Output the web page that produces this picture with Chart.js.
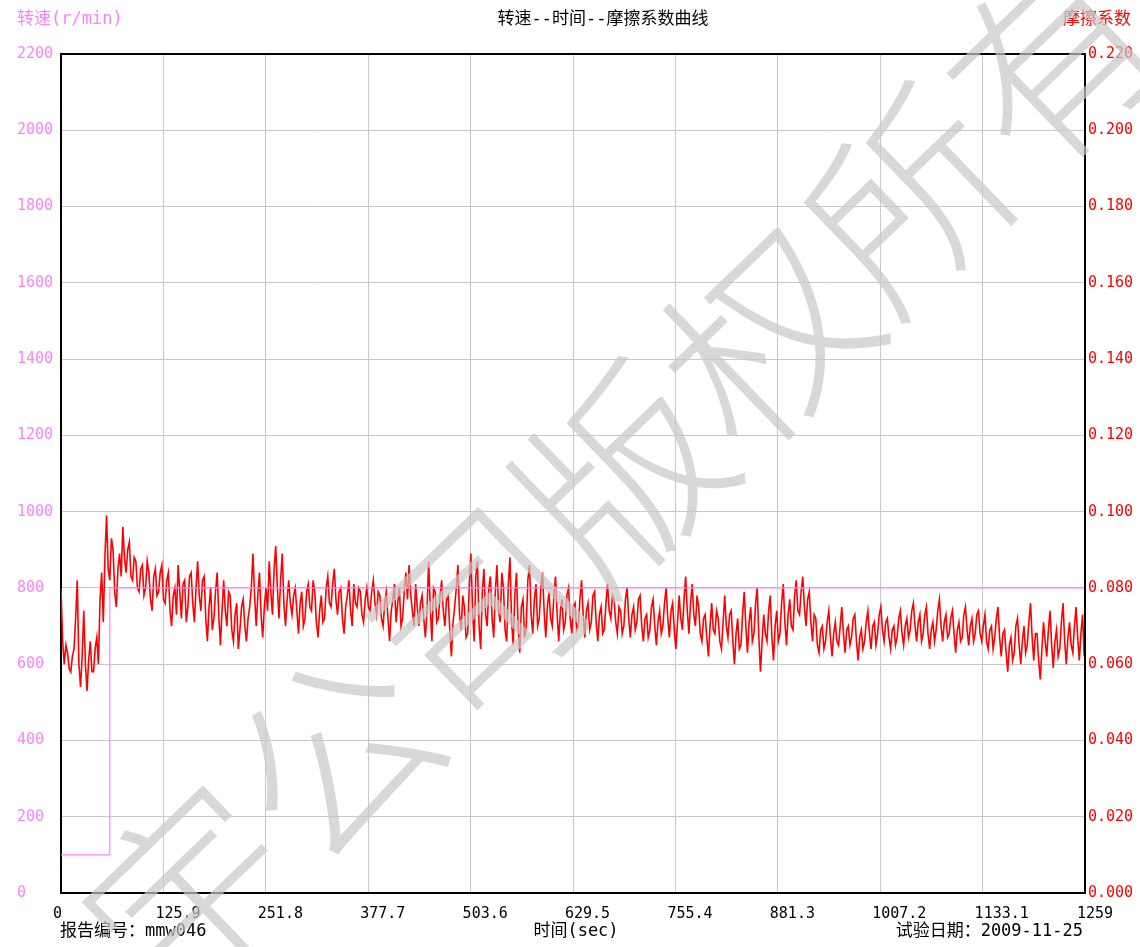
<!DOCTYPE html>
<html>
<head>
<meta charset="utf-8">
<title>转速--时间--摩擦系数曲线</title>
<script src="https://cdn.jsdelivr.net/npm/chart.js@4/dist/chart.umd.min.js"></script>
<style>
  html, body { margin: 0; padding: 0; background: #fff; }
  canvas { display: block; }
</style>
</head>
<body>
<canvas id="chart" width="1140" height="947"></canvas>
<script>
// time axis (sec)
const X_MAX = 1259;
const xTickValues = [0, 125.9, 251.8, 377.7, 503.6, 629.5, 755.4, 881.3, 1007.2, 1133.1, 1259];
const xTickLabels = ["0", "125.9", "251.8", "377.7", "503.6", "629.5", "755.4", "881.3", "1007.2", "1133.1", "1259"];

// left axis: speed r/min
const speedTickValues = [0, 200, 400, 600, 800, 1000, 1200, 1400, 1600, 1800, 2000, 2200];
const speedTimes = [0, 60, 1259];
const speedRpm = [100, 800, 800];

// right axis: friction coefficient
const frictionTickValues = [0, 0.02, 0.04, 0.06, 0.08, 0.1, 0.12, 0.14, 0.16, 0.18, 0.2, 0.22];
const SAMPLE_STEP = 2; // seconds between friction samples
const friction = [
  0.080, 0.066, 0.060, 0.065, 0.063, 0.059, 0.058, 0.062, 0.064, 0.072, 0.082, 0.060, 0.054, 0.062, 0.074, 0.060, 0.053, 0.061, 0.066, 0.058,
  0.058, 0.064, 0.067, 0.060, 0.077, 0.084, 0.071, 0.088, 0.099, 0.085, 0.082, 0.093, 0.090, 0.079, 0.075, 0.085, 0.089, 0.083, 0.096, 0.088,
  0.084, 0.090, 0.092, 0.083, 0.082, 0.088, 0.087, 0.080, 0.079, 0.085, 0.086, 0.078, 0.080, 0.087, 0.084, 0.077, 0.074, 0.083, 0.085, 0.078,
  0.079, 0.084, 0.086, 0.077, 0.076, 0.082, 0.084, 0.074, 0.070, 0.078, 0.080, 0.073, 0.086, 0.079, 0.072, 0.081, 0.082, 0.071, 0.075, 0.083,
  0.084, 0.076, 0.071, 0.080, 0.087, 0.078, 0.074, 0.082, 0.083, 0.072, 0.066, 0.075, 0.080, 0.069, 0.072, 0.079, 0.084, 0.073, 0.065, 0.074,
  0.082, 0.074, 0.070, 0.079, 0.078, 0.069, 0.066, 0.073, 0.076, 0.064, 0.069, 0.075, 0.077, 0.070, 0.066, 0.072, 0.075, 0.080, 0.089, 0.078,
  0.070, 0.078, 0.084, 0.073, 0.067, 0.075, 0.080, 0.074, 0.087, 0.079, 0.073, 0.085, 0.091, 0.080, 0.072, 0.082, 0.089, 0.076, 0.070, 0.077,
  0.082, 0.076, 0.073, 0.078, 0.080, 0.074, 0.068, 0.076, 0.079, 0.070, 0.072, 0.079, 0.081, 0.075, 0.074, 0.082, 0.079, 0.071, 0.067, 0.074,
  0.078, 0.071, 0.072, 0.080, 0.083, 0.076, 0.075, 0.081, 0.085, 0.077, 0.073, 0.079, 0.080, 0.072, 0.068, 0.075, 0.078, 0.082, 0.074, 0.070,
  0.081, 0.076, 0.075, 0.080, 0.079, 0.073, 0.071, 0.077, 0.080, 0.075, 0.074, 0.079, 0.082, 0.076, 0.073, 0.079, 0.078, 0.072, 0.070, 0.076,
  0.079, 0.072, 0.066, 0.074, 0.077, 0.081, 0.071, 0.076, 0.080, 0.070, 0.072, 0.079, 0.084, 0.077, 0.086, 0.078, 0.074, 0.070, 0.081, 0.075,
  0.070, 0.076, 0.078, 0.072, 0.067, 0.074, 0.087, 0.075, 0.066, 0.080, 0.079, 0.071, 0.072, 0.078, 0.082, 0.074, 0.070, 0.077, 0.078, 0.069,
  0.062, 0.071, 0.075, 0.080, 0.086, 0.073, 0.069, 0.078, 0.075, 0.067, 0.068, 0.081, 0.089, 0.074, 0.066, 0.083, 0.087, 0.070, 0.064, 0.079,
  0.085, 0.073, 0.070, 0.080, 0.083, 0.072, 0.067, 0.079, 0.086, 0.074, 0.071, 0.084, 0.080, 0.069, 0.066, 0.081, 0.088, 0.071, 0.065, 0.078,
  0.084, 0.070, 0.063, 0.075, 0.077, 0.067, 0.070, 0.082, 0.086, 0.073, 0.068, 0.077, 0.081, 0.070, 0.072, 0.080, 0.084, 0.074, 0.067, 0.075,
  0.079, 0.072, 0.070, 0.078, 0.083, 0.073, 0.066, 0.074, 0.077, 0.069, 0.071, 0.078, 0.080, 0.072, 0.068, 0.075, 0.076, 0.069, 0.070, 0.077,
  0.082, 0.073, 0.067, 0.074, 0.076, 0.069, 0.071, 0.078, 0.079, 0.071, 0.066, 0.073, 0.075, 0.068, 0.069, 0.076, 0.081, 0.074, 0.072, 0.078,
  0.077, 0.071, 0.068, 0.075, 0.074, 0.068, 0.070, 0.077, 0.080, 0.072, 0.067, 0.073, 0.075, 0.069, 0.071, 0.077, 0.078, 0.070, 0.066, 0.072,
  0.073, 0.067, 0.069, 0.075, 0.077, 0.070, 0.065, 0.071, 0.074, 0.068, 0.070, 0.076, 0.080, 0.072, 0.067, 0.074, 0.076, 0.069, 0.064, 0.071,
  0.078, 0.072, 0.069, 0.077, 0.083, 0.074, 0.068, 0.076, 0.081, 0.073, 0.070, 0.078, 0.075, 0.068, 0.066, 0.072, 0.073, 0.067, 0.062, 0.070,
  0.076, 0.069, 0.068, 0.074, 0.072, 0.066, 0.064, 0.071, 0.078, 0.070, 0.067, 0.073, 0.074, 0.066, 0.060, 0.068, 0.072, 0.064, 0.065, 0.073,
  0.079, 0.070, 0.063, 0.071, 0.075, 0.066, 0.068, 0.076, 0.080, 0.067, 0.058, 0.066, 0.073, 0.068, 0.066, 0.074, 0.078, 0.067, 0.061, 0.070,
  0.074, 0.066, 0.068, 0.076, 0.081, 0.071, 0.065, 0.073, 0.077, 0.070, 0.069, 0.078, 0.082, 0.074, 0.073, 0.079, 0.083, 0.075, 0.070, 0.077,
  0.079, 0.071, 0.066, 0.073, 0.072, 0.065, 0.063, 0.069, 0.070, 0.064, 0.066, 0.071, 0.074, 0.067, 0.062, 0.068, 0.071, 0.066, 0.065, 0.070,
  0.075, 0.068, 0.063, 0.069, 0.070, 0.065, 0.067, 0.072, 0.073, 0.066, 0.061, 0.067, 0.069, 0.064, 0.066, 0.071, 0.074, 0.068, 0.064, 0.070,
  0.071, 0.065, 0.068, 0.073, 0.075, 0.069, 0.066, 0.071, 0.072, 0.067, 0.064, 0.069, 0.070, 0.065, 0.067, 0.072, 0.074, 0.068, 0.065, 0.070,
  0.072, 0.067, 0.069, 0.074, 0.076, 0.070, 0.066, 0.071, 0.073, 0.066, 0.068, 0.073, 0.075, 0.068, 0.064, 0.069, 0.071, 0.066, 0.069, 0.074,
  0.077, 0.070, 0.066, 0.071, 0.073, 0.067, 0.068, 0.072, 0.074, 0.068, 0.063, 0.069, 0.071, 0.066, 0.067, 0.073, 0.075, 0.069, 0.065, 0.070,
  0.072, 0.066, 0.068, 0.073, 0.074, 0.068, 0.066, 0.070, 0.073, 0.066, 0.064, 0.069, 0.070, 0.064, 0.067, 0.072, 0.075, 0.067, 0.062, 0.068,
  0.069, 0.063, 0.058, 0.065, 0.067, 0.061, 0.063, 0.070, 0.072, 0.065, 0.060, 0.066, 0.070, 0.063, 0.065, 0.071, 0.076, 0.067, 0.061, 0.068,
  0.068, 0.061, 0.056, 0.064, 0.071, 0.066, 0.062, 0.069, 0.074, 0.065, 0.059, 0.066, 0.069, 0.062, 0.064, 0.071, 0.076, 0.066, 0.060, 0.067,
  0.071, 0.065, 0.063, 0.070, 0.075, 0.067, 0.061, 0.068, 0.073, 0.062
];

const PINK = "#ff80ff";
const RED = "#ff0000";
const GRID = "#c8c8c8";
const MONO = '"DejaVu Sans Mono", "Noto Sans CJK SC", monospace';
const WATERMARK = "宇公司版权所有";

const frictionPoints = friction.map((v, i) => ({ x: i * SAMPLE_STEP, y: v }));
const speedPoints = speedTimes.map((t, i) => ({ x: t, y: speedRpm[i] }));

// frame, titles, footer and the watermark drawn straight onto the canvas
const textPlugin = {
  id: "texts",
  afterDraw(chart) {
    const c = chart.ctx;
    const a = chart.chartArea;
    c.save();
    c.strokeStyle = "#000";
    c.lineWidth = 2;
    c.beginPath();
    c.moveTo(a.left, a.top);
    c.lineTo(a.right, a.top);
    c.lineTo(a.right, a.bottom);
    c.stroke();

    c.textBaseline = "middle";
    c.font = "17px " + MONO;
    c.fillStyle = "#000";
    c.textAlign = "center";
    c.fillText("转速--时间--摩擦系数曲线", 603, 20);
    c.fillText("时间(sec)", 576, 932);
    c.textAlign = "left";
    c.fillStyle = PINK;
    c.fillText("转速(r/min)", 17, 20);
    c.fillStyle = "#000";
    c.fillText("报告编号：mmw046", 60, 932);
    c.textAlign = "right";
    c.fillStyle = RED;
    c.fillText("摩擦系数", 1131, 20);
    c.fillStyle = "#000";
    c.fillText("试验日期：2009-11-25", 1083, 932);

    // diagonal watermark
    c.translate(1125, -10);
    c.rotate((-44 * Math.PI) / 180);
    c.font = '300 200px "Noto Sans CJK SC"';
    c.fillStyle = "rgba(200,200,200,0.7)";
    c.textAlign = "right";
    c.fillText(WATERMARK, 0, 0);
    c.restore();
  },
};

new Chart(document.getElementById("chart"), {
  type: "line",
  data: {
    datasets: [
      {
        label: "转速",
        data: speedPoints,
        yAxisID: "yL",
        borderColor: PINK,
        borderWidth: 1.2,
        pointRadius: 0,
        stepped: true,
      },
      {
        label: "摩擦系数",
        data: frictionPoints,
        yAxisID: "yR",
        borderColor: RED,
        borderWidth: 1.6,
        pointRadius: 0,
        tension: 0,
      },
    ],
  },
  options: {
    responsive: false,
    animation: false,
    layout: { padding: { left: 17, top: 54, right: 0, bottom: 0 } },
    plugins: { legend: { display: false }, tooltip: { enabled: false } },
    scales: {
      x: {
        type: "linear",
        min: 0,
        max: X_MAX,
        afterBuildTicks: (s) => { s.ticks = xTickValues.map((v) => ({ value: v })); },
        afterFit: (s) => { s.height = 54; },
        grid: { color: GRID, drawTicks: false },
        border: { color: "#000", width: 2 },
        ticks: {
          autoSkip: false,
          maxRotation: 0,
          align: "start",
          labelOffset: -8,
          padding: 12,
          color: "#000",
          font: { family: MONO, size: 15 },
          callback: (v, i) => xTickLabels[i],
        },
      },
      yL: {
        position: "left",
        min: 0,
        max: 2200,
        afterBuildTicks: (s) => { s.ticks = speedTickValues.map((v) => ({ value: v })); },
        afterFit: (s) => { s.width = 44; },
        grid: { color: GRID, drawTicks: false },
        border: { color: "#000", width: 2 },
        ticks: {
          crossAlign: "far",
          color: PINK,
          font: { family: MONO, size: 15 },
          callback: (v) => String(v),
        },
      },
      yR: {
        position: "right",
        min: 0,
        max: 0.22,
        afterBuildTicks: (s) => { s.ticks = frictionTickValues.map((v) => ({ value: v })); },
        afterFit: (s) => { s.width = 55; },
        grid: { display: false, drawTicks: false },
        border: { color: "#000", width: 2 },
        ticks: {
          padding: 3,
          color: RED,
          font: { family: MONO, size: 15 },
          callback: (v) => v.toFixed(3),
        },
      },
    },
  },
  plugins: [textPlugin],
});
</script>
</body>
</html>
